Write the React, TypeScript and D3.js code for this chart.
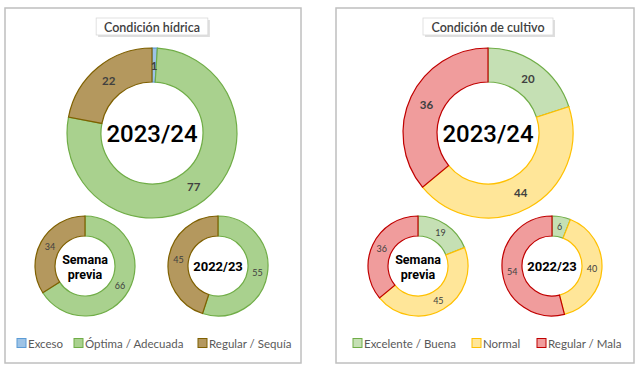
import * as d3 from "d3";

const hydricCats = ["Exceso", "Óptima / Adecuada", "Regular / Sequía"];
const hydricNow = [1, 77, 22];
const hydricPrev = [0, 66, 34];
const hydricLastYear = [0, 55, 45];
const hydricFill = ["#9DC3E6", "#A9D18E", "#B4985E"];
const hydricStroke = ["#5B9BD5", "#70AD47", "#7F6000"];

const cropCats = ["Excelente / Buena", "Normal", "Regular / Mala"];
const cropNow = [20, 44, 36];
const cropPrev = [19, 45, 36];
const cropLastYear = [6, 40, 54];
const cropFill = ["#C5E0B4", "#FFE699", "#F09C9C"];
const cropStroke = ["#70AD47", "#FFC000", "#C00000"];

const labelFont = "Lato, 'Open Sans', sans-serif";

type DonutProps = {
  values: number[];
  fill: string[];
  stroke: string[];
  cx: number;
  cy: number;
  outer: number;
  inner: number;
  center: string[];
  big: boolean;
};

const Donut = ({ values, fill, stroke, cx, cy, outer, inner, center, big }: DonutProps) => {
  const pie = d3.pie<number>().sort(null).value((d) => d);
  const arcs = pie(values);
  const arc = d3.arc<d3.PieArcDatum<number>>().innerRadius(inner).outerRadius(outer);
  const mid = (inner + outer) / 2;
  const labelArc = d3.arc<d3.PieArcDatum<number>>().innerRadius(mid).outerRadius(mid);
  const centerSize = big ? 24 : center.length > 1 ? 12.5 : 13;
  return (
    <g transform={`translate(${cx},${cy})`}>
      {arcs.map((a, i) =>
        a.value > 0 ? (
          <path key={i} d={arc(a) || ""} fill={fill[i]} stroke={stroke[i]} strokeWidth={1.2} />
        ) : null
      )}
      {arcs.map((a, i) => {
        if (a.value <= 0) return null;
        const [x, y] = labelArc.centroid(a);
        return (
          <text
            key={"l" + i}
            x={x}
            y={y}
            textAnchor="middle"
            dominantBaseline="central"
            fontFamily={labelFont}
            fontSize={big ? 11.5 : 9}
            fontWeight={big ? 700 : 400}
            fill="#404040"
          >
            {a.value}
          </text>
        );
      })}
      {center.map((t, i) => (
        <text
          key={"c" + i}
          x={0}
          y={(i - (center.length - 1) / 2) * 15 + (big ? 1 : 0.5)}
          textAnchor="middle"
          dominantBaseline="central"
          fontFamily="Roboto, sans-serif"
          fontWeight={big ? 500 : 700}
          fontSize={centerSize}
          fill="#000"
        >
          {t}
        </text>
      ))}
    </g>
  );
};

type PanelProps = {
  x: number;
  width: number;
  title: string;
  cats: string[];
  now: number[];
  prev: number[];
  last: number[];
  fill: string[];
  stroke: string[];
  bigCx: number;
  smallCx: [number, number];
  legendX: number[];
};

const Panel = ({ x, width, title, cats, now, prev, last, fill, stroke, bigCx, smallCx, legendX }: PanelProps) => {
  const titleW = title.length * 6.1 + 8;
  return (
    <g>
      <rect x={x} y={8} width={width} height={355} fill="#fff" stroke="#BFBFBF" strokeWidth={1.5} />
      <g>
        <rect x={bigCx - titleW / 2 + 2} y={20} width={titleW} height={17} fill="#D0D0D0" opacity={0.7} />
        <rect x={bigCx - titleW / 2} y={18} width={titleW} height={17} fill="#fff" stroke="#D9D9D9" strokeWidth={0.8} />
        <text
          x={bigCx}
          y={27}
          textAnchor="middle"
          dominantBaseline="central"
          fontFamily={labelFont}
          fontSize={12.5}
          fontWeight={600}
          fill="#404040"
        >
          {title}
        </text>
      </g>
      <Donut values={now} fill={fill} stroke={stroke} cx={bigCx} cy={133} outer={85} inner={51} center={["2023/24"]} big={true} />
      <Donut values={prev} fill={fill} stroke={stroke} cx={smallCx[0]} cy={266} outer={50} inner={30} center={["Semana", "previa"]} big={false} />
      <Donut values={last} fill={fill} stroke={stroke} cx={smallCx[1]} cy={266} outer={50} inner={30} center={["2022/23"]} big={false} />
      {cats.map((c, i) => (
        <g key={c} transform={`translate(${legendX[i]},343)`}>
          <rect x={0} y={-4.5} width={9} height={9} fill={fill[i]} stroke={stroke[i]} strokeWidth={1} />
          <text x={11} y={0} dominantBaseline="central" fontFamily={labelFont} fontSize={11.5} fill="#595959">
            {c}
          </text>
        </g>
      ))}
    </g>
  );
};

export default function App() {
  return (
    <svg width={640} height={372} style={{ position: "absolute", left: 0, top: 0 }}>
      <rect width={640} height={372} fill="#fff" />
      <Panel
        x={5}
        width={296}
        title="Condición hídrica"
        cats={hydricCats}
        now={hydricNow}
        prev={hydricPrev}
        last={hydricLastYear}
        fill={hydricFill}
        stroke={hydricStroke}
        bigCx={152}
        smallCx={[85, 218]}
        legendX={[17, 74, 198]}
      />
      <Panel
        x={336}
        width={298}
        title="Condición de cultivo"
        cats={cropCats}
        now={cropNow}
        prev={cropPrev}
        last={cropLastYear}
        fill={cropFill}
        stroke={cropStroke}
        bigCx={488}
        smallCx={[418, 552]}
        legendX={[353, 472, 537]}
      />
    </svg>
  );
}
